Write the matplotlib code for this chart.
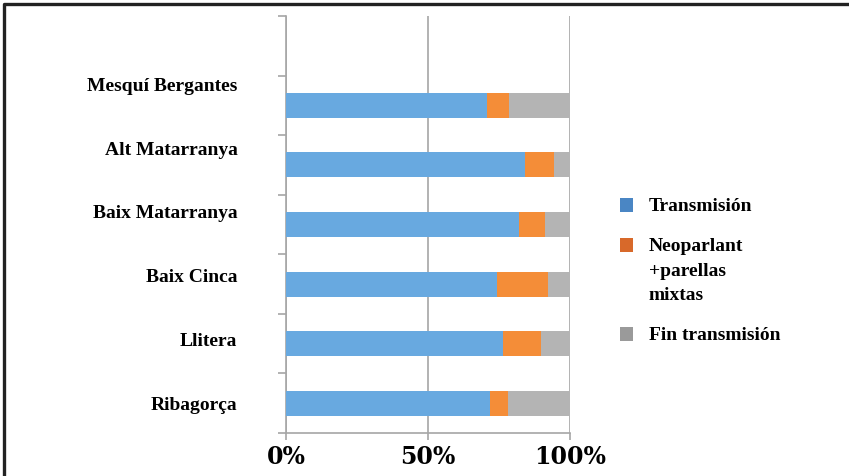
import matplotlib.pyplot as plt
from matplotlib.patches import Patch
from matplotlib.lines import Line2D
import numpy as np

# comarques, de baix a dalt
regions = ['Ribagorça', 'Llitera', 'Baix Cinca', 'Baix Matarranya', 'Alt Matarranya', 'Mesquí Bergantes']
transmision = [71.8, 76.5, 74.3, 82.0, 84.2, 70.8]
neoparlant = [6.3, 13.4, 18.0, 9.2, 10.2, 7.7]
fin_transmision = [21.9, 10.1, 7.7, 8.8, 5.6, 21.5]
series_labels = ['Transmisión', 'Neoparlant\n+parellas\nmixtas', 'Fin transmisión']
xticks = [0, 50, 100]
xtick_labels = ['0%', '50%', '100%']

bar_colors = ['#68a9e0', '#f48d38', '#b4b4b4']
legend_colors = ['#4a86c4', '#d8692a', '#9a9a9a']
grid_c = '#a6a6a6'
serif = ['Liberation Serif', 'DejaVu Serif']

fig = plt.figure(figsize=(8.49, 4.76), dpi=100)
ax = fig.add_axes([286/849, 1 - 433/476, 284/849, 417/476])

y = np.arange(len(regions))
left = np.zeros(len(regions))
for vals, c in zip([transmision, neoparlant, fin_transmision], bar_colors):
    ax.barh(y, vals, left=left, height=0.42, color=c, edgecolor='none', zorder=3)
    left += np.array(vals)

ax.set_xlim(0, 100)
ax.set_ylim(-0.5, len(regions) + 0.5)

# x axis
ax.set_xticks(xticks)
ax.set_xticklabels(xtick_labels, fontsize=17, fontweight='bold', family=['DejaVu Serif'])
ax.tick_params(axis='x', length=5, width=1.2, color=grid_c, pad=4)
ax.xaxis.grid(True, color=grid_c, linewidth=1.2, zorder=0)

# y axis: ticks between categories, labels placed apart (as in the original)
ax.set_yticks(np.arange(-0.5, len(regions) + 1, 1.0), minor=True)
ax.tick_params(axis='y', which='minor', length=6, width=1.2, color=grid_c)
ax.set_yticks(y * 1.07)
ax.set_yticklabels(regions, fontsize=14, fontweight='bold', family=serif)
ax.tick_params(axis='y', which='major', length=0, pad=35)

for s in ['top', 'right']:
    ax.spines[s].set_visible(False)
for s in ['left', 'bottom']:
    ax.spines[s].set_color(grid_c)
    ax.spines[s].set_linewidth(1.2)

handles = [Patch(facecolor=c, edgecolor='none') for c in legend_colors]
leg = fig.legend(handles, series_labels, loc='center left', bbox_to_anchor=(602/849, 1 - 271/476),
                 frameon=False, handlelength=0.7, handleheight=0.7, handletextpad=0.8,
                 labelspacing=1.2, prop={'family': serif, 'weight': 'bold', 'size': 14})
for t in leg.get_texts():
    t.set_linespacing(1.55)
# handle next to the first line of each label
for col in leg._legend_handle_box.get_children():
    for row in col.get_children():
        row.align = 'top'

# outer frame (left and top only)
fig.add_artist(Line2D([4/849, 4/849, 1], [0, 1 - 4/476, 1 - 4/476], transform=fig.transFigure,
                      color='#222222', linewidth=2.4))

fig.savefig('out.png', dpi=100)
